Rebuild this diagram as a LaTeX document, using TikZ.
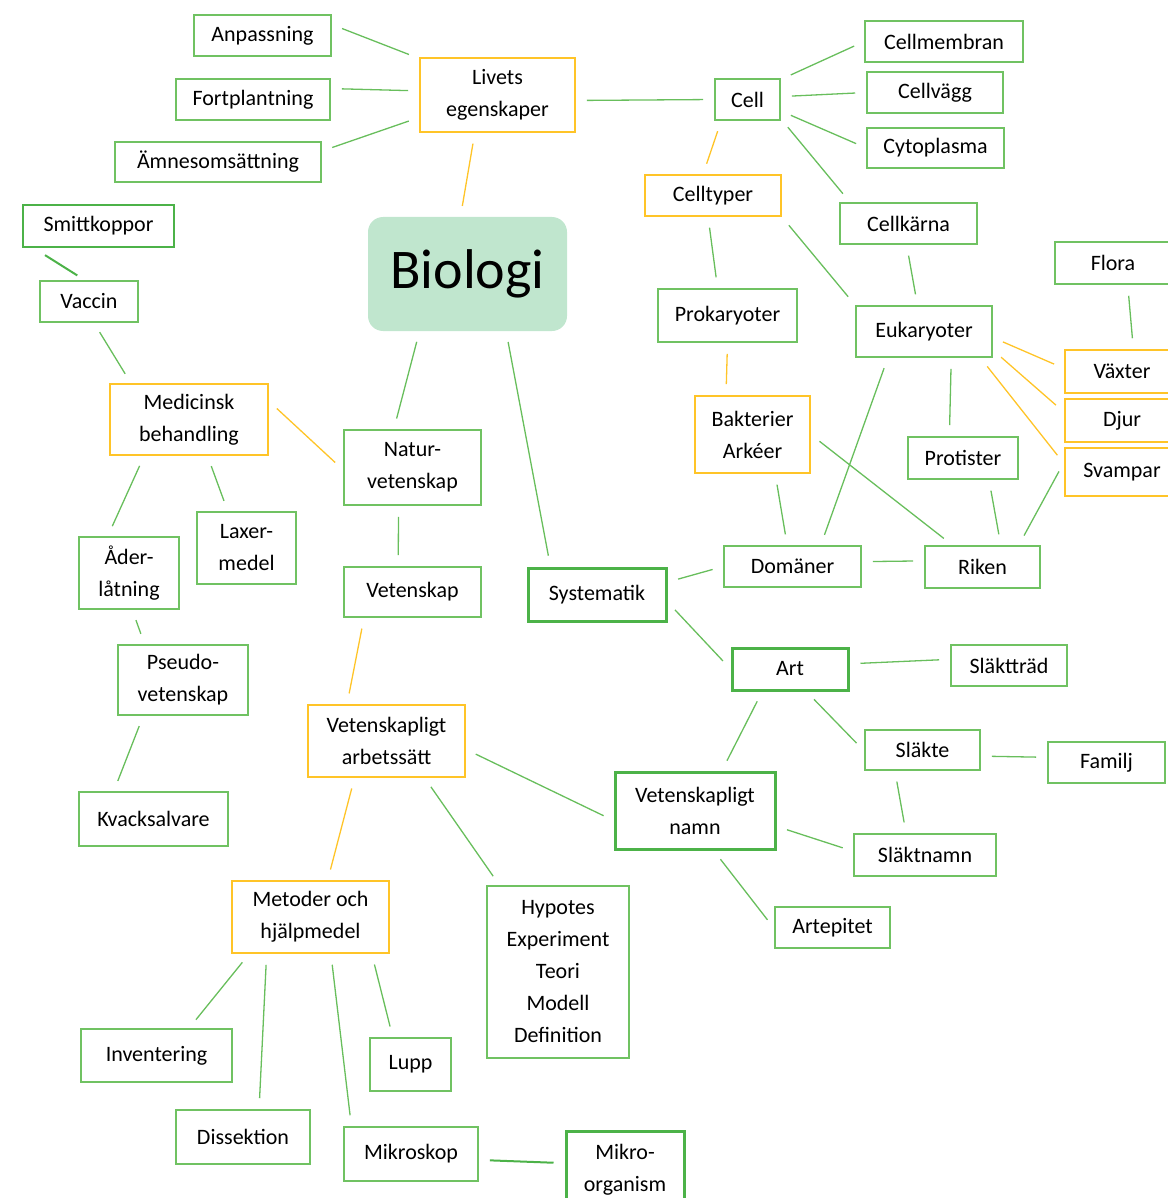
\documentclass[tikz,border=0pt]{standalone}
\usepackage{fontspec}
\setmainfont{Carlito}
\definecolor{gborder}{RGB}{112,194,98}
\definecolor{gdark}{RGB}{76,178,72}
\definecolor{oborder}{RGB}{255,196,40}
\definecolor{gline}{RGB}{104,190,92}
\definecolor{bfill}{RGB}{192,230,206}
\tikzset{
    box/.style={inner sep=0pt, align=center, font=\fontsize{22}{32}\selectfont},
    gbox/.style={box, draw=gborder, line width=1.6pt},
    gboxthick/.style={box, draw=gdark, line width=3pt},
    obox/.style={box, draw=oborder, line width=1.6pt},
    link/.style={draw=gline, line width=1.3pt, shorten >=11pt, shorten <=11pt},
    olink/.style={link, draw=oborder},
    dlink/.style={link, draw=gdark, line width=2pt},
}

\begin{document}
\begin{tikzpicture}[x=1pt, y=-1pt]
        \useasboundingbox (0,0) rectangle (1167,1198);
        %centre node
        \node[box, fill=bfill, rounded corners=15pt, minimum width=199, minimum height=114, font=\fontsize{56}{60}\selectfont] (bio) at (467.5,274) {Biologi};
        %livets egenskaper
        \node[obox, minimum width=155, minimum height=74] (liv) at (497.5,95) {Livets\\egenskaper};
        \node[gbox, minimum width=137, minimum height=41] (anp) at (262.5,35.5) {Anpassning};
        \node[gbox, minimum width=154, minimum height=41] (fort) at (253,99.5) {Fortplantning};
        \node[gbox, minimum width=206, minimum height=40] (amne) at (218,162) {Ämnesomsättning};
        %cell
        \node[gbox, minimum width=65, minimum height=41] (cell) at (747.5,99.5) {Cell};
        \node[gbox, minimum width=158, minimum height=41] (cmem) at (944,41.5) {Cellmembran};
        \node[gbox, minimum width=136, minimum height=41] (cvag) at (935,92.5) {Cellvägg};
        \node[gbox, minimum width=137, minimum height=40] (cyto) at (935.5,148) {Cytoplasma};
        \node[gbox, minimum width=137, minimum height=41] (ckar) at (908.5,223.5) {Cellkärna};
        \node[obox, minimum width=136, minimum height=41] (ctyp) at (713,195.5) {Celltyper};
        \node[gbox, minimum width=139, minimum height=53] (prok) at (727.5,315.5) {Prokaryoter};
        \node[gbox, minimum width=136, minimum height=51] (euk) at (924,331.5) {Eukaryoter};
        \node[obox, minimum width=115, minimum height=77] (bakt) at (752.5,434.5) {Bakterier\\Arkéer};
        \node[gbox, minimum width=110, minimum height=42] (prot) at (963,458) {Protister};
        %riken
        \node[gbox, minimum width=116, minimum height=42] (flora) at (1113,263) {Flora};
        \node[obox, minimum width=114, minimum height=43] (vax) at (1122,371.5) {Växter};
        \node[obox, minimum width=114, minimum height=43] (djur) at (1122,420.5) {Djur};
        \node[obox, minimum width=114, minimum height=48] (svamp) at (1122,472) {Svampar};
        %systematik
        \node[gboxthick, minimum width=138, minimum height=53] (sys) at (597,594.5) {Systematik};
        \node[gbox, minimum width=137, minimum height=41] (dom) at (792.5,566.5) {Domäner};
        \node[gbox, minimum width=115, minimum height=42] (rik) at (982.5,567) {Riken};
        \node[gboxthick, minimum width=116, minimum height=42] (art) at (790,669) {Art};
        \node[gbox, minimum width=116, minimum height=41] (slakttrad) at (1009,665.5) {Släktträd};
        \node[gbox, minimum width=115, minimum height=40] (slakte) at (922.5,750) {Släkte};
        \node[gbox, minimum width=117, minimum height=41] (familj) at (1106.5,762.5) {Familj};
        \node[gboxthick, minimum width=160, minimum height=77] (vetnamn) at (695,810.5) {Vetenskapligt\\namn};
        \node[gbox, minimum width=142, minimum height=42] (slaktnamn) at (925,855) {Släktnamn};
        \node[gbox, minimum width=115, minimum height=41] (artep) at (832.5,927.5) {Artepitet};
        %medicin
        \node[gboxthick, line width=2.4pt, minimum width=151, minimum height=42] (smitt) at (98.5,226) {Smittkoppor};
        \node[gbox, minimum width=98, minimum height=41] (vacc) at (89,301.5) {Vaccin};
        \node[obox, minimum width=158, minimum height=71] (med) at (189,419.5) {Medicinsk\\behandling};
        \node[gbox, minimum width=99, minimum height=72] (laxer) at (246.5,548) {Laxer-\\medel};
        \node[gbox, minimum width=100, minimum height=72] (ader) at (129,573) {Åder-\\låtning};
        \node[gbox, minimum width=130, minimum height=70] (pseudo) at (183,680) {Pseudo-\\vetenskap};
        \node[gbox, minimum width=149, minimum height=54] (kvack) at (153.5,819) {Kvacksalvare};
        %vetenskap
        \node[gbox, minimum width=137, minimum height=75] (natur) at (412.5,467.5) {Natur-\\vetenskap};
        \node[gbox, minimum width=137, minimum height=50] (vet) at (412.5,592) {Vetenskap};
        \node[obox, minimum width=157, minimum height=72] (vetarb) at (386.5,741) {Vetenskapligt\\arbetssätt};
        \node[gbox, minimum width=142, minimum height=172] (hyp) at (558,972) {Hypotes\\Experiment\\Teori\\Modell\\Definition};
        \node[obox, minimum width=157, minimum height=72] (metod) at (310.5,917) {Metoder och\\hjälpmedel};
        \node[gbox, minimum width=151, minimum height=53] (inv) at (156.5,1055.5) {Inventering};
        \node[gbox, minimum width=81, minimum height=53] (lupp) at (410.5,1064.5) {Lupp};
        \node[gbox, minimum width=134, minimum height=54] (diss) at (243,1137) {Dissektion};
        \node[gbox, minimum width=134, minimum height=54] (mikr) at (411,1154) {Mikroskop};
        \node[gboxthick, minimum width=118, minimum height=77] (mikro) at (625,1169.5) {Mikro-\\organism};
        %draw lines round livets egenskaper
        \draw[link] (anp.9) -- (liv.155);
        \draw[link] (fort.8) -- (liv.177);
        \draw[link] (amne.6) -- (liv.196);
        \draw[olink] (liv.239) -- (bio.97);
        \draw[link] (liv.-4) -- (cell.180);
        %draw lines round cell
        \draw[link] (cell.31) -- (cmem.180);
        \draw[link] (cell.5) -- (cvag.180);
        \draw[link] (cell.-19) -- (cyto.180);
        \draw[link] (cell.-30) -- (ckar.160);
        \draw[olink] (cell.219) -- (ctyp.115);
        \draw[link] (ctyp.257) -- (prok.110);
        \draw[link] (ctyp.south east) -- (euk.north west);
        \draw[link] (ckar.265) -- (euk.104);
        \draw[olink] (prok.270) -- (bakt.124);
        %draw lines round eukaryoter
        \draw[link] (flora.-56) -- (vax.63);
        \draw[olink] (euk.-5) -- (vax.177);
        \draw[olink] (euk.-15) -- (djur.172);
        \draw[olink] (euk.-25) -- (svamp.172);
        \draw[link] (euk.-44) -- (prot.122);
        \draw[link] (euk.216) -- (dom.37);
        %draw lines to domaner and riken
        \draw[link] (bakt.300) -- (dom.104);
        \draw[link] (bakt.0) -- (rik.144);
        \draw[link] (prot.-40) -- (rik.50);
        \draw[link] (svamp.170) -- (rik.31);
        \draw[link] (dom.4) -- (rik.174);
        \draw[link] (sys.10) -- (dom.180);
        \draw[link] (bio.-56) -- (sys.149);
        %draw lines round art
        \draw[link] (sys.-6) -- (art.180);
        \draw[link] (art.5) -- (slakttrad.174);
        \draw[link] (art.-54) -- (slakte.181);
        \draw[link] (art.219) -- (vetnamn.56);
        \draw[link] (slakte.-6) -- (familj.175);
        \draw[link] (slakte.217) -- (slaktnamn.131);
        \draw[link] (vetnamn.-11) -- (slaktnamn.177);
        \draw[link] (vetnamn.-65) -- (artep.181);
        %draw lines round medicinsk behandling
        \draw[link] (bio.230) -- (natur.116);
        \draw[olink] (natur.182) -- (med.13);
        \draw[dlink, shorten >=9pt, shorten <=13pt] (smitt.199) -- (vacc.101);
        \draw[link] (vacc.-77) -- (med.148);
        \draw[link] (med.219) -- (ader.120);
        \draw[link] (med.-63) -- (laxer.117);
        \draw[link] (ader.-85) -- (pseudo.137);
        \draw[link] (pseudo.222) -- (kvack.145);
        %draw lines round vetenskap
        \draw[link] (natur.250) -- (vet.119);
        \draw[olink] (vet.208) -- (vetarb.137);
        \draw[link] (vetarb.-6) -- (vetnamn.187);
        \draw[olink] (vetarb.229) -- (metod.65);
        \draw[link] (vetarb.-44) -- (hyp.124);
        %draw lines round metoder
        \draw[link] (metod.211) -- (inv.40);
        \draw[link] (metod.220) -- (diss.60);
        \draw[link] (metod.-61) -- (mikr.155);
        \draw[link] (metod.-31) -- (lupp.123);
        \draw[dlink] (mikr.-5) -- (mikro.174);
    \end{tikzpicture}
\end{document}
